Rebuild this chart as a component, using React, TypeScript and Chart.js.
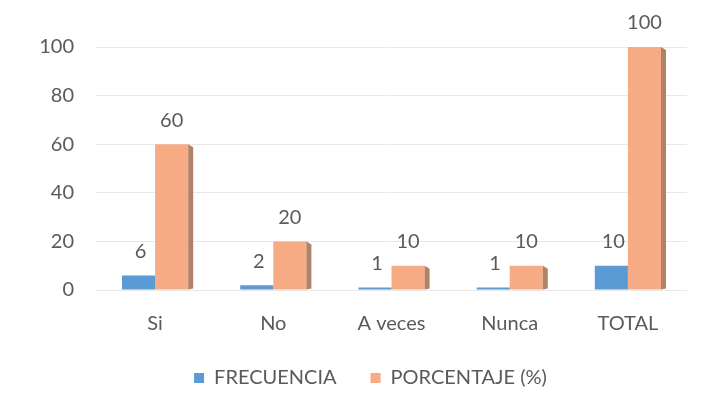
import React, { useEffect, useRef } from "react";
import { Chart, registerables } from "chart.js";

Chart.register(...registerables);

const categories = ["Si", "No", "A veces", "Nunca", "TOTAL"];
const frecuencia = [6, 2, 1, 1, 10];
const porcentaje = [60, 20, 10, 10, 100];
const yTicks = [0, 20, 40, 60, 80, 100];

const FONT = "Lato, 'Open Sans', sans-serif";
const TEXT = "#5a5a5a";
const SIZE = 20;

const valueLabels = {
  id: "valueLabels",
  afterDatasetsDraw(chart: any) {
    const ctx = chart.ctx;
    ctx.save();
    // 3D side face for orange bars
    const meta1 = chart.getDatasetMeta(1);
    meta1.data.forEach((bar: any) => {
      const { x, y, base, width } = bar.getProps(["x", "y", "base", "width"], true);
      const right = x + width / 2;
      ctx.fillStyle = "#b08266";
      ctx.beginPath();
      ctx.moveTo(right, y);
      ctx.lineTo(right + 5, y + 3);
      ctx.lineTo(right + 5, base - 1);
      ctx.lineTo(right, base);
      ctx.closePath();
      ctx.fill();
    });
    ctx.font = `${SIZE}px ${FONT}`;
    ctx.fillStyle = TEXT;
    ctx.textAlign = "center";
    ctx.textBaseline = "bottom";
    chart.data.datasets.forEach((ds: any, di: number) => {
      const meta = chart.getDatasetMeta(di);
      meta.data.forEach((bar: any, i: number) => {
        const { x, y } = bar.getProps(["x", "y"], true);
        ctx.fillText(String(ds.data[i]), x + (di === 0 ? 2 : 0), y - 14);
      });
    });
    ctx.restore();
  },
};

export default function App() {
  const ref = useRef<HTMLCanvasElement>(null);
  useEffect(() => {
    if (!ref.current) return;
    const chart = new Chart(ref.current, {
      type: "bar",
      data: {
        labels: categories,
        datasets: [
          {
            label: "FRECUENCIA",
            data: frecuencia,
            backgroundColor: "#5b9bd5",
            categoryPercentage: 0.56,
            barPercentage: 1.0,
          },
          {
            label: "PORCENTAJE (%)",
            data: porcentaje,
            backgroundColor: "#f7ab84",
            categoryPercentage: 0.56,
            barPercentage: 1.0,
          },
        ],
      },
      options: {
        responsive: false,
        animation: false,
        layout: { padding: { top: 47, right: 0, left: 18, bottom: 11 } },
        plugins: {
          tooltip: { enabled: false },
          legend: {
            position: "bottom",
            labels: {
              font: { family: FONT, size: SIZE },
              color: TEXT,
              boxWidth: 10,
              boxHeight: 10,
              padding: 34,
            },
          },
        },
        scales: {
          x: {
            grid: { display: false },
            border: { display: false },
            ticks: { font: { family: FONT, size: SIZE }, color: TEXT, padding: 14 },
            afterFit(scale: any) {
              scale.height = 44;
            },
          },
          y: {
            min: 0,
            max: 100,
            afterBuildTicks(scale: any) {
              scale.ticks = yTicks.map((v) => ({ value: v }));
            },
            grid: { color: "#e8e8e8", drawTicks: false },
            border: { display: false },
            ticks: { font: { family: FONT, size: SIZE }, color: TEXT, padding: 22 },
            afterFit(scale: any) {
              scale.width = 78;
            },
          },
          yRight: {
            position: "right",
            min: 0,
            max: 100,
            grid: { display: false },
            border: { display: false },
            ticks: { display: false },
            afterFit(scale: any) {
              scale.width = 36;
            },
          },
        },
      },
      plugins: [valueLabels],
    } as any);
    return () => chart.destroy();
  }, []);
  return (
    <div style={{ position: "fixed", left: 0, top: 0, width: 723, height: 409, background: "#fff" }}>
      <canvas ref={ref} width={723} height={409} />
    </div>
  );
}
